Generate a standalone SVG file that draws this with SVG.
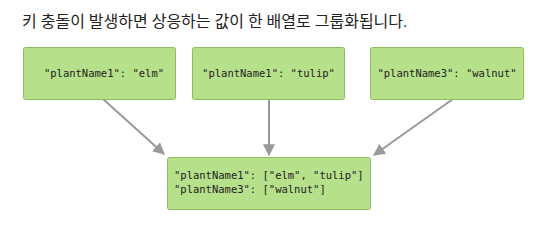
<svg xmlns="http://www.w3.org/2000/svg" width="549" height="237" viewBox="0 0 549 237">
<defs>
<style>
.box{fill:#b7e08b;stroke:#8cbd5e;stroke-width:1}
.mono{font-family:"DejaVu Sans Mono","Liberation Mono",monospace;font-size:10.5px;fill:#222}
.title{font-family:"Roboto","Noto Sans CJK KR",sans-serif;font-size:16px;fill:#222}
.conn{stroke:#999;stroke-width:2;fill:none;marker-end:url(#arr)}
</style>
<marker id="arr" viewBox="0 0 10 10" refX="9" refY="5" markerWidth="6" markerHeight="6" orient="auto" markerUnits="strokeWidth">
<path d="M0,0 L10,5 L0,10 z" fill="#999"/>
</marker>
</defs>
<rect width="549" height="237" fill="#fff"/>
<text class="title" x="22" y="27">키 충돌이 발생하면 상응하는 값이 한 배열로 그룹화됩니다.</text>
<g id="connectors">
<line class="conn" x1="103" y1="99" x2="164" y2="154"/>
<line class="conn" x1="269" y1="99" x2="269" y2="155"/>
<line class="conn" x1="453" y1="99" x2="374" y2="155"/>
</g>
<g id="node-elm">
<rect class="box" x="23.5" y="47.5" width="152" height="52" rx="2"/>
<text class="mono" x="104" y="77" text-anchor="middle">"plantName1": "elm"</text>
</g>
<g id="node-tulip">
<rect class="box" x="192.5" y="47.5" width="152" height="52" rx="2"/>
<text class="mono" x="268.5" y="77" text-anchor="middle">"plantName1": "tulip"</text>
</g>
<g id="node-walnut">
<rect class="box" x="370.5" y="47.5" width="153" height="52" rx="2"/>
<text class="mono" x="447" y="77" text-anchor="middle">"plantName3": "walnut"</text>
</g>
<g id="node-result">
<rect class="box" x="167.5" y="157.5" width="203" height="52" rx="2"/>
<text class="mono" x="174" y="179">"plantName1": ["elm", "tulip"]</text>
<text class="mono" x="174" y="193">"plantName3": ["walnut"]</text>
</g>
</svg>
